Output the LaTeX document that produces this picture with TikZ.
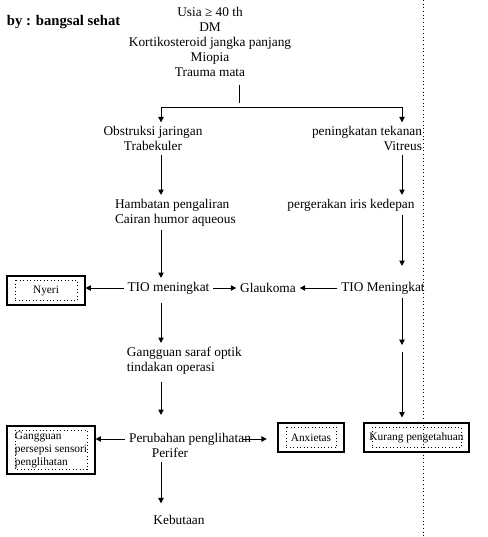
\documentclass[tikz,border=0pt]{standalone}
\usepackage{fontspec}
\setmainfont{Liberation Serif}
\usetikzlibrary{arrows.meta}
\tikzset{
	txt/.style={inner sep=0pt, outer sep=3pt, font=\fontsize{10}{11.25}\selectfont},
	arr/.style={-{Triangle[length=4pt,width=4pt]}},
	ketbox/.style={draw, line width=0.8pt, inner sep=0pt, align=left,
		font=\fontsize{8.5}{10}\selectfont,
		path picture={\draw[dotted, line width=0.6pt] ([shift={(6pt,-3.2pt)}]path picture bounding box.north west) rectangle ([shift={(-6pt,3.2pt)}]path picture bounding box.south east);}},
}
\begin{document}
\begin{tikzpicture}[x=0.75pt, y=-0.75pt, line width=0.75pt]
			\useasboundingbox (0,0) rectangle (488,537);
			\node[txt, anchor=west, font=\fontsize{11}{13}\selectfont\bfseries] (judul) at (3,22) {by : bangsal sehat};
			\node[txt, align=center] (faktor) at (210,42) {Usia ≥ 40 th\\DM\\Kortikosteroid jangka panjang\\Miopia\\Trauma mata};
			\coordinate (stem) at (239,103);
			\coordinate (cL) at (161,107);
			\coordinate (cR) at (402,107);
			\node[txt, align=center] (obs) at (153,138.5) {Obstruksi jaringan\\Trabekuler};
			\node[txt, align=right, anchor=east] (pen) at (426,138.5) {peningkatan tekanan\\Vitreus};
			\node[txt, align=left, anchor=west] (hamb) at (111,212.5) {Hambatan pengaliran\\Cairan humor aqueous};
			\node[txt] (per) at (351,205) {pergerakan iris kedepan};
			\node[txt] (tiom) at (168.5,288) {TIO meningkat};
			\node[txt] (glau) at (268,288) {Glaukoma};
			\node[txt] (tioM) at (383,288) {TIO Meningkat};
			\node[ketbox, minimum width=58.5pt, minimum height=21.75pt, align=center] (nyeri) at (46,290.5) {Nyeri};
			\node[txt, align=left, anchor=west] (saraf) at (123,360.5) {Gangguan saraf optik\\tindakan operasi};
			\coordinate (rk1) at (402,345);
			\coordinate (rk2) at (402,352);
			\node[txt] (perub) at (190,439) {Perubahan penglihatan};
			\node[txt] (perif) at (170,453) {Perifer};
			\node[ketbox, minimum width=66pt, minimum height=36pt] (ggn) at (51,450) {Gangguan\\persepsi sensori\\penglihatan};
			\node[ketbox, minimum width=49.5pt, minimum height=21.75pt, align=center] (anx) at (311,437.5) {Anxietas};
			\node[ketbox, minimum width=78.75pt, minimum height=21.75pt, align=center] (kur) at (416.5,437.5) {Kurang pengetahuan};
			\node[txt] (keb) at (179,520) {Kebutaan};
			\draw[dotted] (423,0) -- (423,537);
			\draw[shorten <=3pt] (faktor.south -| stem) -- (stem);
			\draw[arr] (cL) -- (obs.north -| cL);
			\draw[arr] (cL) -- (cR) -- (pen.north -| cR);
			\draw[arr] (obs.south -| cL) -- (hamb.north -| cL);
			\draw[arr] (hamb.south -| cL) -- (tiom.north -| cL);
			\draw[arr, shorten <=4pt] (tiom.south -| cL) -- (saraf.north -| cL);
			\draw[arr, shorten <=3pt, shorten >=10.5pt] (saraf.south -| cL) -- (perub.north -| cL);
			\draw[arr, shorten >=6pt] (perif.south -| cL) -- (keb.north -| cL);
			\draw[arr] (pen.south -| cR) -- (per.north -| cR);
			\draw[arr, shorten >=9pt] (per.south -| cR) -- (tioM.north -| cR);
			\draw[arr] (tioM.south -| cR) -- (rk1);
			\draw[arr, shorten >=3.75pt] (rk2) -- (kur.north -| cR);
			\draw[arr] (tiom.west) -- (nyeri.east |- tiom.west);
			\draw[arr] (tiom.east) -- (glau.west);
			\draw[arr] (tioM.west) -- (glau.east);
			\draw[arr] (perub.west) -- (ggn.east |- perub.west);
			\draw[arr, shorten <=-9pt, shorten >=8pt] (perub.east) -- (anx.west |- perub.east);
		\end{tikzpicture}
\end{document}
